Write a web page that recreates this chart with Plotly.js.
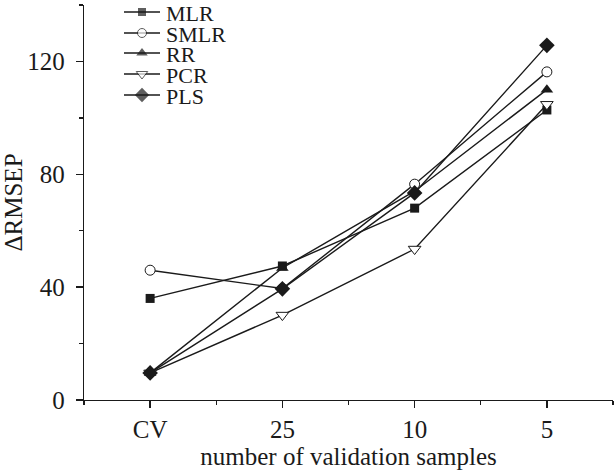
<!DOCTYPE html>
<html>
<head>
<meta charset="utf-8">
<script src="https://cdn.plot.ly/plotly-3.0.1.min.js"></script>
<style>html,body{margin:0;padding:0;background:#fff;}#chart{width:615px;height:470px;}</style>
</head>
<body>
<div id="chart"></div>
<script>
const categories = ['CV', '25', '10', '5'];
const xPos = [0, 1, 2, 3];
const MLR  = [36, 47.5, 68, 102.8];
const SMLR = [46, 39.5, 76.5, 116.3];
const RR   = [9.6, 46.8, 74, 110];
const PCR  = [9.6, 30.1, 53.5, 104.8];
const PLS  = [9.6, 39.4, 73.4, 125.7];
const seriesNames = ['MLR', 'SMLR', 'RR', 'PCR', 'PLS'];
const seriesValues = [MLR, SMLR, RR, PCR, PLS];
const yTickVals = [0, 40, 80, 120];

const INK = '#1a1a1a';
const FONT = '"Liberation Serif", "Times New Roman", serif';
const FS = 25;
const LFS = 22;
const markerStyles = [
  {symbol: 'square', size: 9, color: INK, line: {width: 0}},
  {symbol: 'circle', size: 10, color: '#fff', line: {color: INK, width: 1}},
  {symbol: 'triangle-up', size: 11, color: INK, line: {width: 0}},
  {symbol: 'triangle-down', size: 11, color: '#fff', line: {color: INK, width: 1}},
  {symbol: 'diamond', size: 12, color: INK, line: {width: 0}}
];

const traces = seriesValues.map((vals, i) => ({
  x: xPos, y: vals, name: seriesNames[i], type: 'scatter', mode: 'lines+markers',
  line: {color: INK, width: 1.4}, marker: markerStyles[i], cliponaxis: false,
  showlegend: false
}));

// custom legend on pixel overlay axes
const legendRowY = [12, 33, 53, 74, 95];
const legendLineX = [124, 142, 160];
const annotations = [];
seriesNames.forEach((n, i) => {
  traces.push({
    x: legendLineX, y: [legendRowY[i], legendRowY[i], legendRowY[i]],
    xaxis: 'x2', yaxis: 'y2', type: 'scatter', mode: 'lines+markers',
    line: {color: INK, width: 1.4},
    marker: Object.assign({}, markerStyles[i], {size: [0, markerStyles[i].size - 1, 0]}),
    showlegend: false, hoverinfo: 'skip', cliponaxis: false
  });
  annotations.push({
    xref: 'x2', yref: 'y2', x: 165, y: legendRowY[i] + 1, text: n, showarrow: false,
    xanchor: 'left', yanchor: 'middle', height: 20, borderpad: 0,
    font: {family: FONT, size: LFS, color: INK}
  });
});

const layout = {
  width: 615, height: 470,
  margin: {l: 84, r: 2, t: 5, b: 70},
  paper_bgcolor: '#fff', plot_bgcolor: '#fff',
  showlegend: false,
  font: {family: FONT, size: FS, color: INK},
  xaxis: {
    range: [-0.5, 3.5], tickvals: xPos, ticktext: categories,
    showline: true, linecolor: INK, linewidth: 1.3, mirror: false,
    ticks: 'outside', ticklen: 7, tickwidth: 1.3, tickcolor: INK,
    showgrid: false, zeroline: false,
    tickfont: {family: FONT, size: FS, color: INK},
    minor: {tickvals: [-0.5, 0.5, 1.5, 2.5, 3.5], ticks: 'outside', ticklen: 4, tickwidth: 1.3, tickcolor: INK, showgrid: false},
    title: {text: 'number of validation samples', font: {family: FONT, size: FS, color: INK}, standoff: 0}
  },
  yaxis: {
    range: [0, 140], tickvals: yTickVals,
    showline: true, linecolor: INK, linewidth: 1.3, mirror: false,
    ticks: 'outside', ticklen: 7, tickwidth: 1.3, tickcolor: INK,
    showgrid: false, zeroline: false, ticklabelstandoff: 6,
    tickfont: {family: FONT, size: FS, color: INK},
    minor: {dtick: 20, tick0: 0, ticks: 'outside', ticklen: 4, tickwidth: 1.3, tickcolor: INK, showgrid: false},
    title: {text: 'ΔRMSEP', font: {family: FONT, size: FS, color: INK}, standoff: 6}
  },
  xaxis2: {overlaying: 'x', range: [84, 613], visible: false, fixedrange: true},
  yaxis2: {overlaying: 'y', range: [400, 5], visible: false, fixedrange: true},
  annotations: annotations
};

Plotly.newPlot('chart', traces, layout, {displayModeBar: false, staticPlot: true});
</script>
</body>
</html>
